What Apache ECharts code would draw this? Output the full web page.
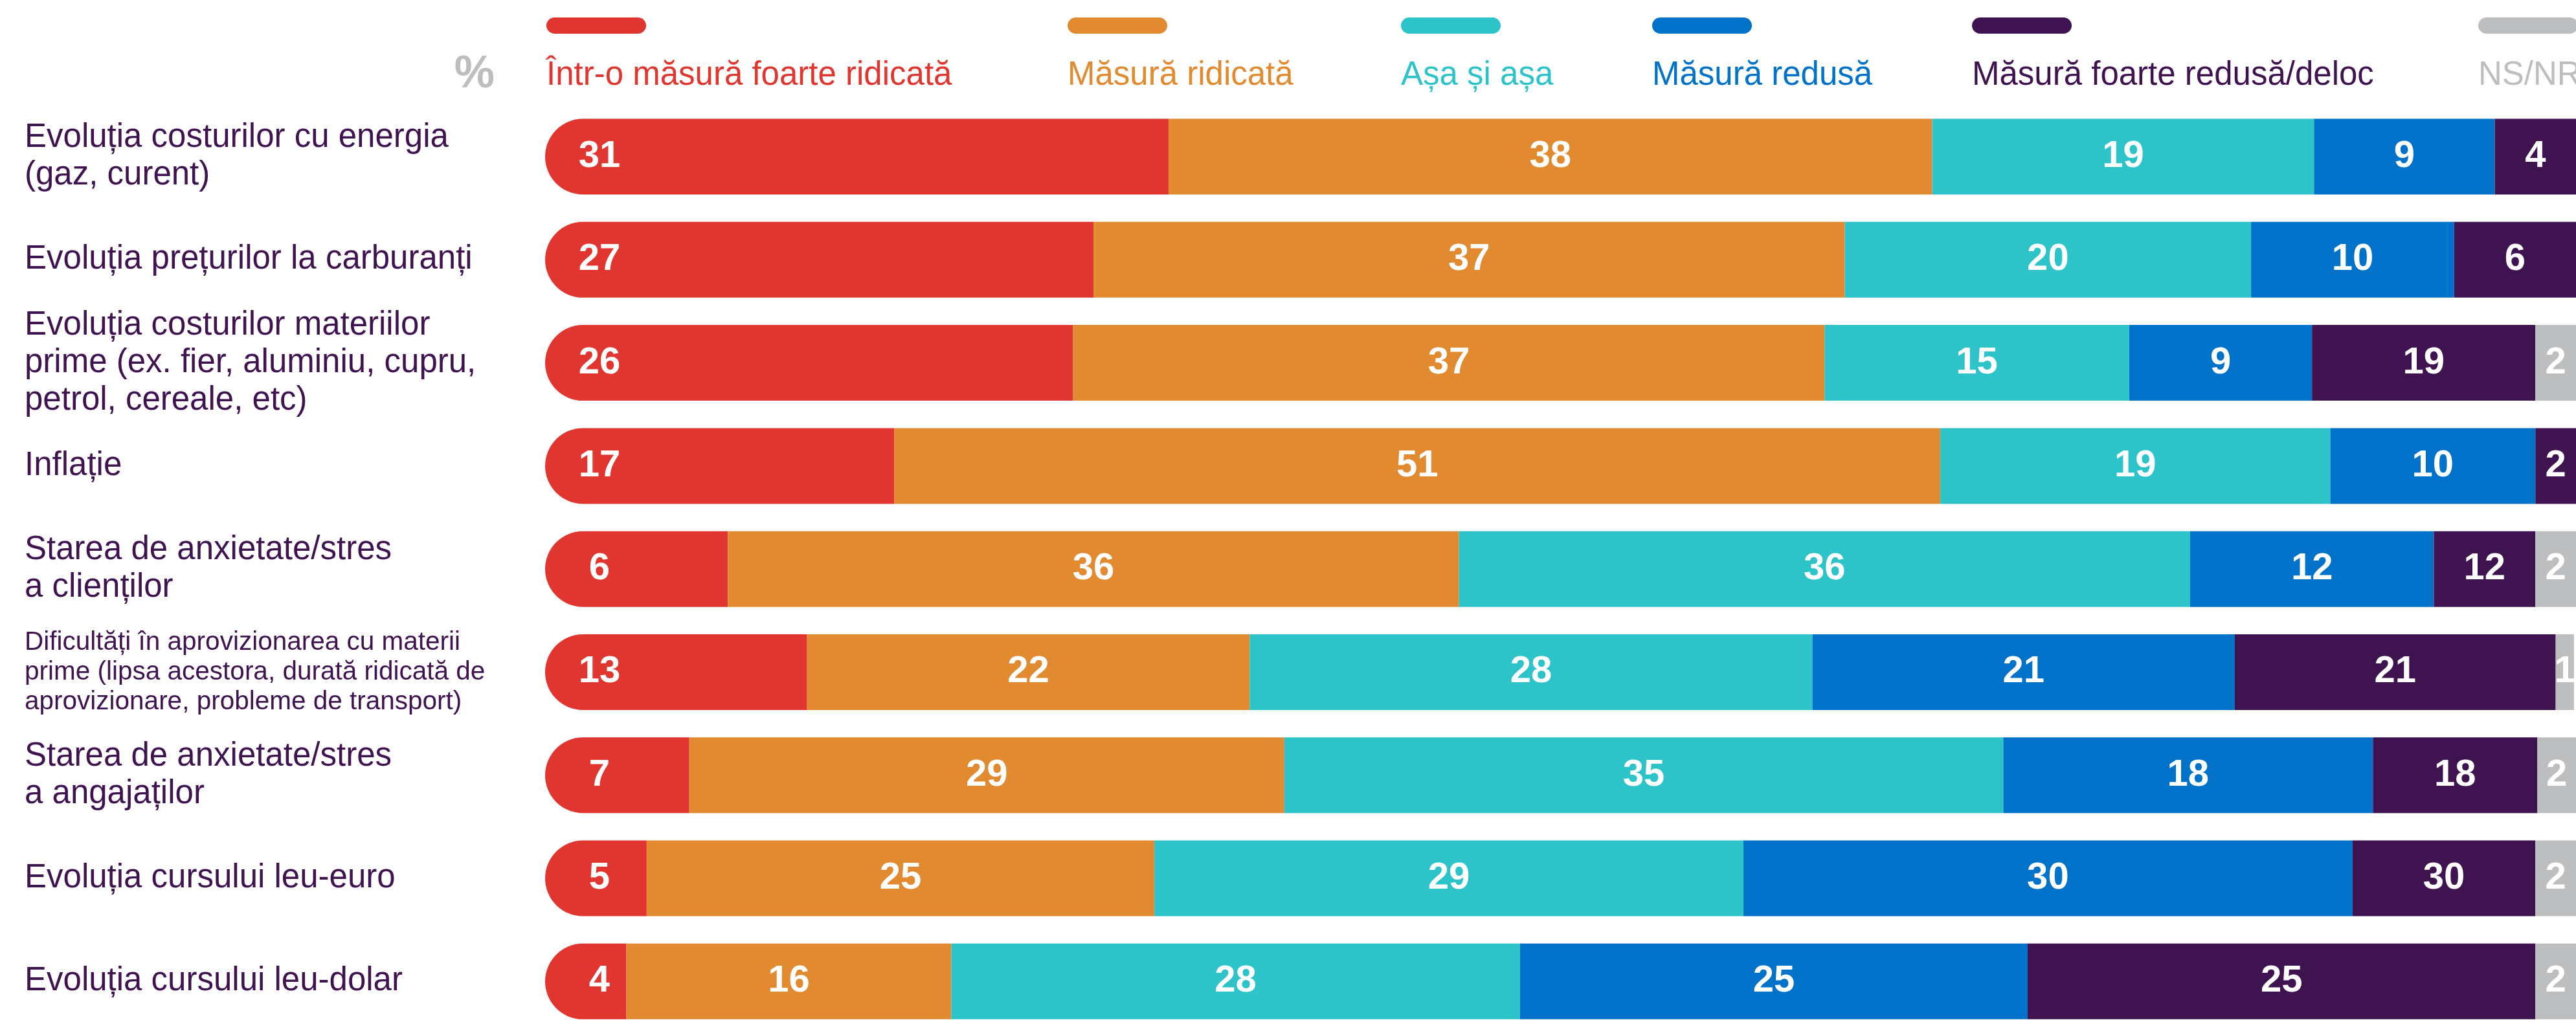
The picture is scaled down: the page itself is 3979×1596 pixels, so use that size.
<!DOCTYPE html>
<html>
<head>
<meta charset="utf-8">
<script src="https://cdn.jsdelivr.net/npm/echarts@6/dist/echarts.min.js"></script>
<style>
html,body{margin:0;padding:0;background:#fff;}
#chart{width:3979px;height:1596px;}
</style>
</head>
<body>
<div id="chart"></div>
<script>
const categories = [
  'Evoluția costurilor cu energia\n(gaz, curent)',
  'Evoluția prețurilor la carburanți',
  'Evoluția costurilor materiilor\nprime (ex. fier, aluminiu, cupru,\npetrol, cereale, etc)',
  'Inflație',
  'Starea de anxietate/stres\na clienților',
  'Dificultăți în aprovizionarea cu materii\nprime (lipsa acestora, durată ridicată de\naprovizionare, probleme de transport)',
  'Starea de anxietate/stres\na angajaților',
  'Evoluția cursului leu-euro',
  'Evoluția cursului leu-dolar'
];
const seriesNames = ['Într-o măsură foarte ridicată', 'Măsură ridicată', 'Așa și așa', 'Măsură redusă', 'Măsură foarte redusă/deloc', 'NS/NR'];

// segment widths (percent)
const valRed    = [30.7, 27, 26, 17.2, 9, 12.9, 7.1, 5, 4];
const valOrange = [37.6, 37, 37, 51.5, 36, 21.8, 29.3, 25, 16];
const valTeal   = [18.8, 20, 15, 19.2, 36, 27.7, 35.4, 29, 28];
const valBlue   = [8.9, 10, 9, 10.1, 12, 20.8, 18.2, 30, 25];
const valPurple = [4, 6, 11, 2, 5, 15.8, 8.1, 9, 25];
const valGrey   = [null, null, 2, null, 2, 0.9, 1.9, 2, 2];

// numbers printed on the segments
const labRed    = ['31','27','26','17','6','13','7','5','4'];
const labOrange = ['38','37','37','51','36','22','29','25','16'];
const labTeal   = ['19','20','15','19','36','28','35','29','28'];
const labBlue   = ['9','10','9','10','12','21','18','30','25'];
const labPurple = ['4','6','19','2','12','21','18','30','25'];
const labGrey   = ['','','2','','2','1','2','2','2'];

const colors = ['#e1352f', '#e18a30', '#2dc4c9', '#0072c9', '#3e1350', '#bdbec0'];
const values = [valRed, valOrange, valTeal, valBlue, valPurple, valGrey];
const labels = [labRed, labOrange, labTeal, labBlue, labPurple, labGrey];

const FONT = '"Liberation Sans", Arial, sans-serif';
const legendX = [844, 1649, 2164, 2552, 3046, 3828];

const chart = echarts.init(document.getElementById('chart'), null, {renderer: 'canvas'});

const series = seriesNames.map((name, i) => ({
  name: name,
  type: 'bar',
  stack: 'total',
  barWidth: 117,
  data: values[i],
  itemStyle: {
    color: colors[i],
    borderRadius: i === 0 ? [58.5, 0, 0, 58.5] : 0
  },
  label: {
    show: true,
    position: i === 0 ? [84, '50%'] : 'inside',
    align: 'center',
    verticalAlign: 'middle',
    color: '#ffffff',
    fontFamily: FONT,
    fontWeight: 'bold',
    fontSize: 58,
    formatter: p => labels[i][p.dataIndex]
  },
  emphasis: {disabled: true},
  animation: false
}));

const graphic = [];
seriesNames.forEach((name, i) => {
  graphic.push({
    type: 'rect',
    left: legendX[i], top: 27,
    shape: {width: 154, height: 25, r: 12.5},
    style: {fill: colors[i]}
  });
  graphic.push({
    type: 'text',
    x: legendX[i], y: 117,
    style: {
      text: name, fill: colors[i],
      font: '51px ' + FONT,
      textAlign: 'left', textVerticalAlign: 'middle'
    }
  });
});
graphic.push({
  type: 'text',
  x: 764, y: 116,
  style: {
    text: '%', fill: '#bdbec0',
    font: 'bold 70px ' + FONT,
    textAlign: 'right', textVerticalAlign: 'middle'
  }
});

chart.setOption({
  animation: false,
  backgroundColor: '#ffffff',
  grid: {left: 842, width: 3137, top: 162.4, height: 1463.4, containLabel: false},
  xAxis: {
    type: 'value', min: 0, max: 100, show: false
  },
  yAxis: {
    type: 'category',
    inverse: true,
    data: categories,
    axisLine: {show: false},
    axisTick: {show: false},
    splitLine: {show: false},
    axisLabel: {
      interval: 0,
      align: 'left',
      margin: 804,
      color: '#3e1350',
      fontFamily: FONT,
      fontSize: 51,
      lineHeight: 58,
      formatter: (v, idx) => idx === 5 ? '{s|' + v.split('\n').join('}\n{s|') + '}' : v,
      rich: {
        s: {fontSize: 40.5, lineHeight: 46, color: '#3e1350', fontFamily: FONT}
      }
    }
  },
  series: series,
  graphic: graphic
});
</script>
</body>
</html>
